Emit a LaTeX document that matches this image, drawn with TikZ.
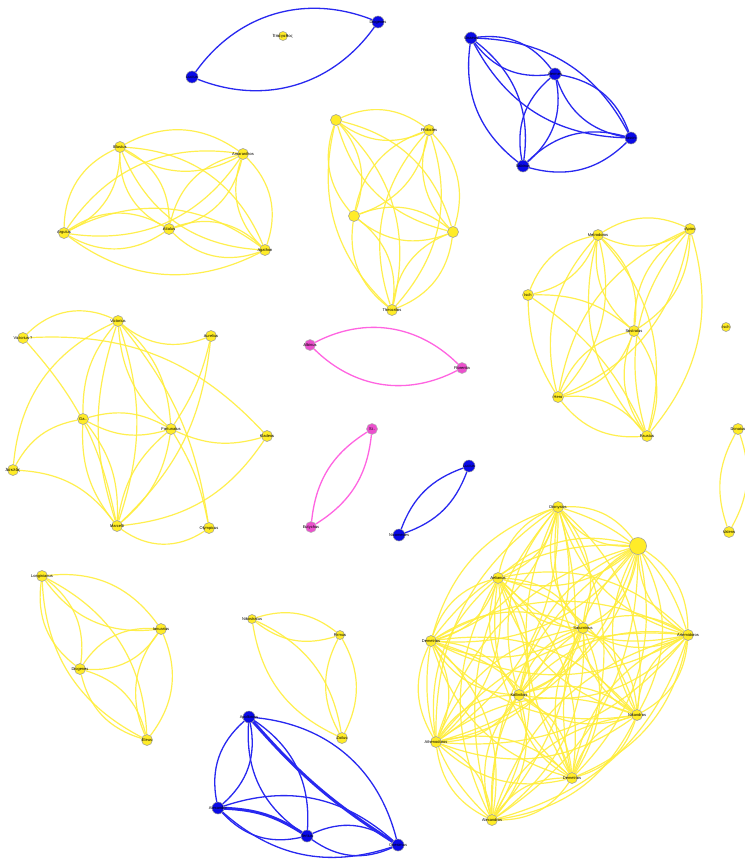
\documentclass[tikz,border=0pt]{standalone}
\usepackage{fontspec}
\setmainfont{Liberation Sans}
\newfontfamily\grk{DejaVu Sans}
\usetikzlibrary{backgrounds}
\definecolor{yedge}{RGB}{255,238,60}
\definecolor{ynode}{RGB}{255,236,40}
\definecolor{bedge}{RGB}{40,40,240}
\definecolor{bnode}{RGB}{10,10,230}
\definecolor{pedge}{RGB}{255,100,225}
\definecolor{pnode}{RGB}{235,80,205}
\newcommand\completegraph[3]{%
  \foreach \a [count=\i] in {#3} {\foreach \b [count=\j] in {#3} {%
    \ifnum\i<\j
      \draw[#1] (\a) to[bend left=#2] (\b);
      \draw[#1] (\a) to[bend right=#2] (\b);
    \fi}}}
\newcommand\pairedge[4]{%
  \draw[#1] (#3) to[bend left=#2] (#4);
  \draw[#1] (#3) to[bend right=#2] (#4);}
\tikzset{
  lab/.style={font=\fontsize{4}{4.5}\selectfont, text=black, inner sep=0pt},
  yn/.style={circle, fill=ynode, draw=black!40, line width=0.5pt, minimum size=11pt, inner sep=0pt},
  ynb/.style={yn, minimum size=17pt},
  yns/.style={yn, minimum size=9pt},
  bn/.style={circle, fill=bnode, draw=black!40, line width=0.5pt, minimum size=12pt, inner sep=0pt},
  pn/.style={circle, fill=pnode, draw=black!30, line width=0.5pt, minimum size=11pt, inner sep=0pt},
  ye/.style={draw=yedge, line width=1.2pt, opacity=0.9},
  be/.style={draw=bedge, line width=1.3pt},
  bthick/.style={draw=bedge, line width=3pt},
  pe/.style={draw=pedge, line width=1.3pt},
}
\begin{document}
\begin{tikzpicture}[x=1pt,y=-1pt]
\useasboundingbox (0,0) rectangle (744,859);
% ---------- top-left blue pair ----------
\node[bn, label={[lab]center:Lucius}] (lu) at (192,77) {};
\node[bn, label={[lab]center:Diogenes}] (dg) at (378,22) {};
\node[yns, label={[lab]center:{\grk Ἐπάγαθος}}] (ep) at (283,36) {};
% ---------- top-right blue ----------
\node[bn, label={[lab]center:Gnaeus}] (gn) at (471,38) {};
\node[bn, label={[lab]center:Hermes}] (hm) at (555,74) {};
\node[bn, label={[lab]center:Iason}] (ia) at (631,138) {};
\node[bn, label={[lab]center:Sabinus}] (sb) at (523,166) {};
% ---------- top-left yellow ----------
\node[yn, label={[lab]center:Blastus}] (bl) at (120,147) {};
\node[yn, label={[lab]center:Amaranthos}] (am) at (243,154) {};
\node[yn, label={[lab]center:Argutus}] (ag) at (64,233) {};
\node[yn, label={[lab]center:Attalus}] (at) at (169,229) {};
\node[yn, label={[lab]center:Agathon}] (agh) at (265,250) {};
% ---------- middle-top yellow ----------
\node[yn] (m1) at (336,120) {};
\node[yn, label={[lab]center:Philocles}] (ph) at (429,130) {};
\node[yn] (m3) at (354,216) {};
\node[yn] (m4) at (453,232) {};
\node[yn, label={[lab]center:Theocritos}] (th) at (392,310) {};
% ---------- right yellow ----------
\node[yn, label={[lab]center:Metrodoros}] (me) at (598,235) {};
\node[yn, label={[lab]center:Apios}] (api) at (690,229) {};
\node[yn, label={[lab]center:Isch}] (is) at (528,295) {};
\node[yn, label={[lab]center:Sostratus}] (so) at (634,331) {};
\node[yn, label={[lab]center:Hero}] (hr) at (558,397) {};
\node[yn, label={[lab]center:Faustus}] (fa) at (647,436) {};
\node[yns, label={[lab]center:Isch}] (is2) at (726,327) {};
\node[yn, label={[lab]center:Donatus}] (dn) at (738,429) {};
\node[yn, label={[lab]center:Valens}] (va) at (729,532) {};
% ---------- left-middle yellow ----------
\node[yn, label={[lab]center:Victorius}] (vi) at (118,321) {};
\node[yn, label={[lab]center:Victorius ?}] (vq) at (23,338) {};
\node[yn, label={[lab]center:Aurelius}] (au) at (211,336) {};
\node[yn, label={[lab]center:Ga..}] (ga) at (83,419) {};
\node[yn, label={[lab]center:Fortunatus}] (fo) at (171,429) {};
\node[yn, label={[lab]center:Kladeos}] (kl) at (267,436) {};
\node[yn, label={[lab]center:{\grk Ἀσκλᾶς}}] (as) at (13,470) {};
\node[yn, label={[lab]center:Marcelli}] (ma) at (117,526) {};
\node[yn, label={[lab]center:Olympicus}] (ol) at (209,528) {};
% ---------- pink and small blue ----------
\node[pn, label={[lab]center:Albinus}] (al) at (310,345) {};
\node[pn, label={[lab]center:Florentia}] (fl) at (462,368) {};
\node[pn, label={[lab]center:Si..}] (si) at (372,429) {};
\node[pn, label={[lab]center:Eutychus}] (eu) at (311,527) {};
\node[bn, label={[lab]center:Lucius}] (lc) at (469,466) {};
\node[bn, label={[lab]center:Nicomedes}] (ni) at (399,535) {};
% ---------- bottom-left yellow ----------
\node[yn, label={[lab]center:Longinianus}] (lo) at (42,576) {};
\node[yn, label={[lab]center:Ianuarius}] (iu) at (161,629) {};
\node[yn, label={[lab]center:Diogenes}] (di) at (80,669) {};
\node[yn, label={[lab]center:Eleus}] (el) at (147,740) {};
% ---------- bottom-middle yellow ----------
\node[yns, label={[lab]center:Nikostratus}] (nk) at (252,619) {};
\node[yns, label={[lab]center:Firmus}] (fi) at (340,635) {};
\node[yn, label={[lab]center:Zoilus}] (zo) at (342,738) {};
% ---------- big yellow cluster ----------
\node[yn, label={[lab]center:Dionysios}] (dy) at (558,507) {};
\node[ynb] (ub) at (638,546) {};
\node[yn, label={[lab]center:Aelianus}] (ae) at (498,578) {};
\node[yn, label={[lab]center:Demetrios}] (de) at (431,641) {};
\node[yn, label={[lab]center:Saturninus}] (sa) at (583,628) {};
\node[yn, label={[lab]center:Artemidoros}] (ar) at (688,635) {};
\node[yn, label={[lab]center:Kallinikos}] (ka) at (519,695) {};
\node[yn, label={[lab]center:Nikandros}] (nd) at (637,715) {};
\node[yn, label={[lab]center:Athenodoros}] (ath) at (436,742) {};
\node[yn, label={[lab]center:Demetrios}] (de2) at (572,778) {};
\node[yn, label={[lab]center:Alexandros}] (ax) at (492,820) {};
% ---------- bottom blue ----------
\node[bn, label={[lab]center:Apollonius}] (apo) at (249,717) {};
\node[bn, label={[lab]center:Alexander}] (alx) at (218,808) {};
\node[bn, label={[lab]center:Tertius}] (te) at (307,836) {};
\node[bn, label={[lab]center:Onesimus}] (on) at (398,845) {};

\begin{pgfonlayer}{background}
\fill[white] (0,0) rectangle (744,859);
% blue pairs
\pairedge{be}{38}{lu}{dg}
\completegraph{be}{30}{gn,hm,ia,sb}
% yellow clusters
\completegraph{ye}{32}{bl,am,ag,at,agh}
\completegraph{ye}{30}{m1,ph,m3,m4,th}
\completegraph{ye}{28}{me,api,so,hr,fa}
\pairedge{ye}{28}{is}{me}
\draw[ye] (is) to[bend left=20] (so);
\draw[ye] (is) to[bend left=15] (fa);
\draw[ye] (is) to[bend right=15] (hr);
\pairedge{ye}{24}{dn}{va}
% left-middle
\draw[ye] (vq) to[bend left=35] (vi);
\draw[ye] (vq) to[bend left=25] (kl);
\draw[ye] (vq) to[bend left=15] (ma);
\draw[ye] (vi) to[bend right=30] (au);
\draw[ye] (vi) to[bend right=30] (as);
\draw[ye] (vi) to[bend right=20] (ga);
\pairedge{ye}{22}{vi}{fo}
\pairedge{ye}{18}{vi}{ma}
\draw[ye] (vi) to[bend left=15] (ol);
\draw[ye] (au) to[bend left=10] (fo);
\draw[ye] (au) to[bend left=20] (ma);
\pairedge{ye}{22}{ga}{fo}
\draw[ye] (ga) to[bend right=25] (as);
\pairedge{ye}{20}{ga}{ma}
\draw[ye] (fo) to[bend right=20] (kl);
\pairedge{ye}{20}{fo}{ma}
\draw[ye] (fo) to[bend left=10] (ol);
\draw[ye] (kl) to[bend left=25] (ma);
\draw[ye] (as) to[bend left=25] (ma);
\draw[ye] (ma) to[bend right=35] (ol);
% pink and small blue
\pairedge{pe}{36}{al}{fl}
\pairedge{pe}{26}{si}{eu}
\pairedge{be}{25}{lc}{ni}
% bottom-left and bottom-middle
\completegraph{ye}{30}{lo,iu,di,el}
\completegraph{ye}{28}{nk,fi,zo}
% big cluster
\completegraph{ye}{28}{dy,ub,ae,de,sa,ar,ka,nd,ath,de2,ax}
% bottom blue
\pairedge{be}{30}{apo}{alx}
\pairedge{be}{30}{apo}{te}
\draw[bthick] (apo) to[bend right=8] (on);
\draw[be] (apo) to[bend left=35] (on);
\draw[bthick] (alx) to[bend left=15] (te);
\draw[be] (alx) to[bend right=30] (te);
\pairedge{be}{30}{alx}{on}
\pairedge{be}{30}{te}{on}
\end{pgfonlayer}
\end{tikzpicture}
\end{document}
